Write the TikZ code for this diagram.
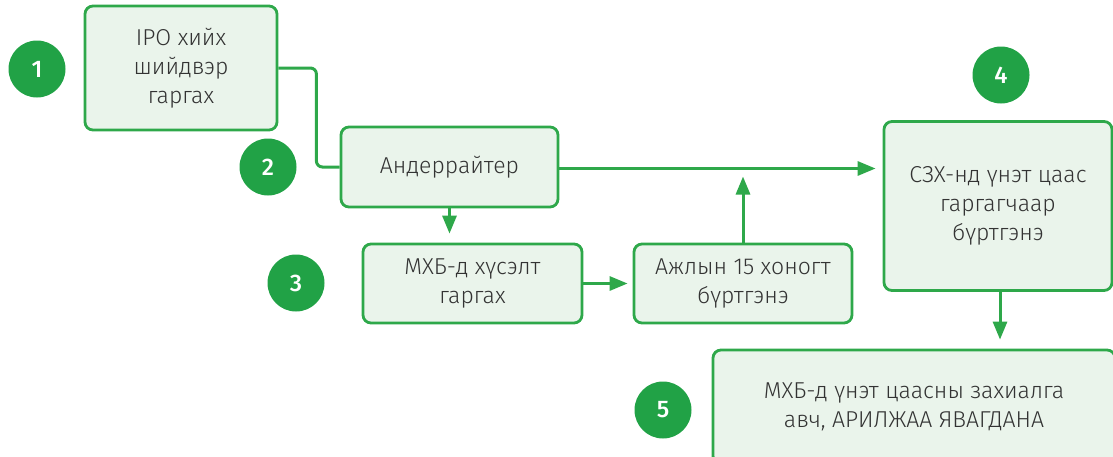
\documentclass[tikz,border=0pt]{standalone}
\usepackage{fontspec}
\setmainfont{Fira Sans}[UprightFont=* Light, BoldFont=* Medium]
\usetikzlibrary{arrows.meta}
\definecolor{linegreen}{HTML}{2EA84A}
\definecolor{dotgreen}{HTML}{21A246}
\definecolor{boxfill}{HTML}{EAF4EB}
\definecolor{txtgray}{HTML}{333333}
\tikzset{
  stepbox/.style={draw=linegreen, line width=2.8pt, fill=boxfill, rounded corners=8pt,
    align=center, text=txtgray, inner sep=0pt, font=\fontsize{23}{29}\selectfont},
  numdot/.style={circle, fill=dotgreen, text=white, minimum size=57pt, inner sep=0pt,
    font=\fontsize{24}{28}\selectfont\bfseries},
  flow/.style={draw=linegreen, line width=3pt, -{Triangle[length=18pt,width=14pt]}}
}
\begin{document}
\begin{tikzpicture}[x=1pt, y=-1pt]
    \useasboundingbox (0,0) rectangle (1113,456);
    \clip (0,0) rectangle (1113,456);
    % Steps
    \node[stepbox, minimum width=192pt, minimum height=124pt] (ipo) at (181,68)
        {IPO хийх\\шийдвэр\\гаргах};
    \node[stepbox, minimum width=217pt, minimum height=80pt] (und) at (449.5,167)
        {Андеррайтер};
    \node[stepbox, minimum width=219pt, minimum height=79pt] (req) at (472.5,283.5)
        {МХБ-д хүсэлт\\гаргах};
    \node[stepbox, minimum width=218pt, minimum height=79pt] (reg) at (743,283.5)
        {Ажлын 15 хоногт\\бүртгэнэ};
    \node[stepbox, minimum width=228pt, minimum height=169pt] (fsc) at (998,206)
        {СЗХ-нд үнэт цаас\\гаргагчаар\\бүртгэнэ};
    \node[stepbox, minimum width=402pt, minimum height=114pt] (mse) at (914,407)
        {МХБ-д үнэт цаасны захиалга\\авч, АРИЛЖАА ЯВАГДАНА};

    % Numbers
    \foreach \n/\x/\y in {1/37/69, 2/268/167, 3/296/283, 4/1001/75, 5/663/410} {
        \node[numdot] (dot\n) at (\x,\y) {\n};
    }

    % Connectors
    \draw[linegreen, line width=3pt, rounded corners=6pt]
        (ipo.east) -- ++(38,0) |- (und.west);
    \draw[flow, shorten >=7pt] ([yshift=-1.5pt]und.east) -- ([yshift=-1.5pt]und.east -| fsc.west);
    \draw[flow, shorten >=9pt] (und.south) -- (und.south |- req.north);
    \draw[flow, shorten >=5pt] (req.east) -- (reg.west);
    \draw[flow, shorten >=8pt] (reg.north) -- ([yshift=-1.5pt]und.east -| reg.north);
    \draw[flow, shorten >=9pt] (fsc.south -| 1000,0) -- (mse.north -| 1000,0);
\end{tikzpicture}
\end{document}
